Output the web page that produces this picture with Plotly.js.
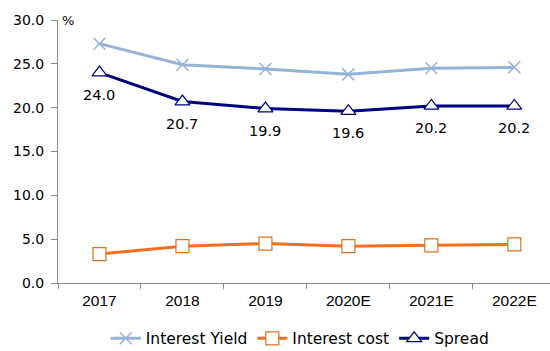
<!DOCTYPE html>
<html>
<head>
<meta charset="utf-8">
<script src="https://cdn.plot.ly/plotly-3.0.1.min.js"></script>
<style>html,body{margin:0;padding:0;background:#fff;}#chart{width:550px;height:351px;}</style>
</head>
<body>
<div id="chart"></div>
<script>
const categories = ["2017", "2018", "2019", "2020E", "2021E", "2022E"];
const interestYield = [27.3, 24.9, 24.4, 23.8, 24.5, 24.6];
const interestCost = [3.3, 4.2, 4.5, 4.2, 4.3, 4.4];
const spread = [24.0, 20.7, 19.9, 19.6, 20.2, 20.2];
const spreadLabels = spread.map(v => v.toFixed(1));

const traces = [
  {
    x: categories, y: interestYield, name: "Interest Yield",
    type: "scatter", mode: "lines+markers",
    line: {color: "#95B3D7", width: 3},
    marker: {symbol: "x-thin-open", size: 12, color: "#95B3D7", line: {color: "#95B3D7", width: 1.5}}
  },
  {
    x: categories, y: interestCost, name: "Interest cost",
    type: "scatter", mode: "lines+markers",
    line: {color: "#F07020", width: 3},
    marker: {symbol: "square", size: 13, color: "#FFFFFF", line: {color: "#E07020", width: 1.2}}
  },
  {
    x: categories, y: spread, name: "Spread",
    type: "scatter", mode: "lines+markers",
    line: {color: "#000080", width: 3},
    marker: {symbol: "triangle-up", size: 13, color: "#FFFFFF", line: {color: "#000080", width: 1.2}}
  }
];

// category index positions on the category axis
const labelAnnotations = categories.map((c, i) => ({
  x: i, y: spread[i], xref: "x", yref: "y", text: spreadLabels[i],
  showarrow: false, yshift: -22, xanchor: "center", yanchor: "middle",
  font: {family: "DejaVu Sans", size: 14.5, color: "#000"}
}));

const layout = {
  width: 550, height: 351,
  margin: {l: 58, r: 0, t: 20, b: 68, autoexpand: false},
  paper_bgcolor: "#fff", plot_bgcolor: "#fff",
  showlegend: true,
  legend: {orientation: "h", x: 0.545, xref: "container", xanchor: "center",
           y: 0.035, yref: "container", yanchor: "middle",
           font: {family: "DejaVu Sans", size: 15.5, color: "#000"}, itemwidth: 30, tracegroupgap: 0},
  xaxis: {
    type: "category", range: [-0.5, 5.43],
    showline: true, linecolor: "#888", linewidth: 1,
    ticks: "outside", ticklen: 5, tickcolor: "#888", tickson: "boundaries",
    showgrid: false, zeroline: false, ticklabelstandoff: 3,
    tickfont: {family: "Liberation Sans", size: 15.5, color: "#000"}
  },
  yaxis: {
    range: [0, 30], dtick: 5, tickformat: ".1f",
    showline: true, linecolor: "#888", linewidth: 1,
    ticks: "outside", ticklen: 6, tickcolor: "#888", ticklabelstandoff: 4,
    showgrid: false, zeroline: false,
    tickfont: {family: "DejaVu Sans", size: 14, color: "#000"}
  },
  annotations: [
    {text: "%", xref: "paper", yref: "paper", x: 0.005, y: 1.0, xanchor: "left", yanchor: "middle",
     showarrow: false, font: {family: "DejaVu Sans", size: 13, color: "#000"}}
  ].concat(labelAnnotations)
};

Plotly.newPlot("chart", traces, layout, {displayModeBar: false, staticPlot: true});
</script>
</body>
</html>
